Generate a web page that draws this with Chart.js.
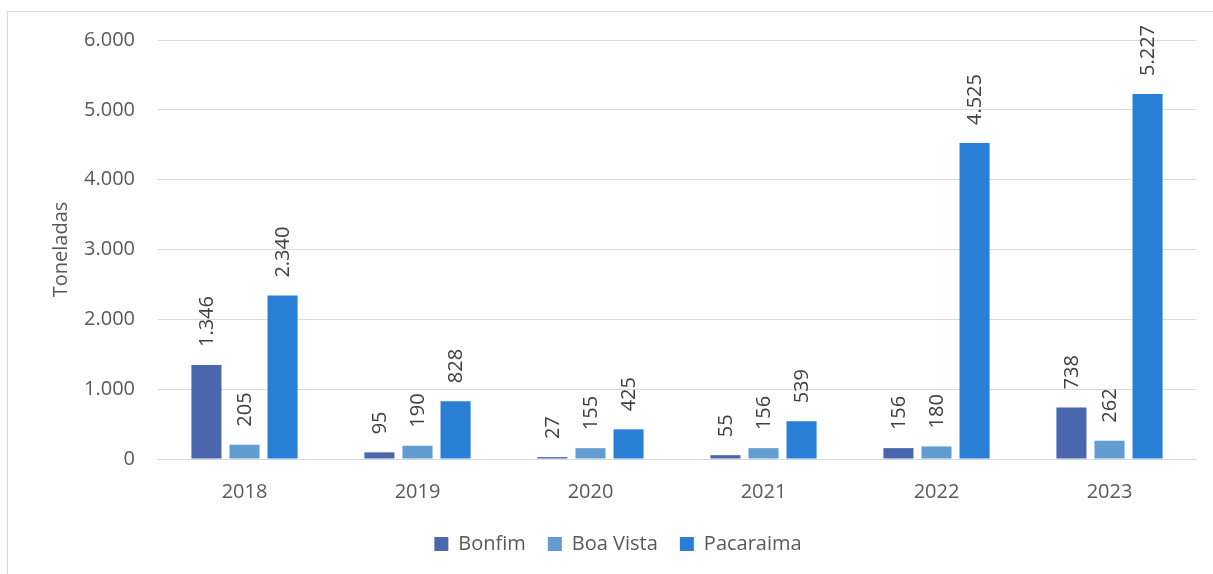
<!DOCTYPE html>
<html>
<head>
<meta charset="utf-8">
<script src="https://cdn.jsdelivr.net/npm/chart.js@4/dist/chart.umd.min.js"></script>
<style>
  html, body { margin: 0; padding: 0; background: #fff; }
  .wrap { position: relative; width: 1213px; height: 574px; overflow: hidden; }
  .frame { position: absolute; left: 7px; top: 11px; width: 1300px; height: 700px;
           border-left: 1px solid #d9d9d9; border-top: 1px solid #d9d9d9; }
  canvas { position: absolute; left: 0; top: 0; }
</style>
</head>
<body>
<div class="wrap">
  <div class="frame"></div>
  <canvas id="myChart" width="1213" height="574"></canvas>
</div>
<script>
// dados
var anos = ["2018", "2019", "2020", "2021", "2022", "2023"];
var bonfim = [1346, 95, 27, 55, 156, 738];
var boaVista = [205, 190, 155, 156, 180, 262];
var pacaraima = [2340, 828, 425, 539, 4525, 5227];
var yTicks = [0, 1000, 2000, 3000, 4000, 5000, 6000];

function fmt(v) {
    return String(v).replace(/\B(?=(\d{3})+(?!\d))/g, ".");
}

var FONT = "'Open Sans', 'DejaVu Sans', sans-serif";

// rotated value labels over the bars
var valueLabels = {
    id: 'valueLabels',
    afterDatasetsDraw: function(chart) {
        var ctx = chart.ctx;
        ctx.save();
        ctx.font = "20px " + FONT;
        ctx.fillStyle = "#404040";
        ctx.textAlign = "left";
        ctx.textBaseline = "middle";
        chart.data.datasets.forEach(function(ds, i) {
            chart.getDatasetMeta(i).data.forEach(function(bar, j) {
                ctx.save();
                ctx.translate(bar.x, bar.y - 18);
                ctx.rotate(-Math.PI / 2);
                ctx.fillText(fmt(ds.data[j]), 0, 1);
                ctx.restore();
            });
        });
        ctx.restore();
    }
};

var ctx = document.getElementById('myChart').getContext('2d');
var chart = new Chart(ctx, {
    type: 'bar',
    data: {
        labels: anos,
        datasets: [{
            label: "Bonfim",
            backgroundColor: '#4a66ac',
            data: bonfim
        },
        {
            label: "Boa Vista",
            backgroundColor: '#629dd1',
            data: boaVista
        },
        {
            label: "Pacaraima",
            backgroundColor: '#297fd5',
            data: pacaraima
        }]
    },
    options: {
        responsive: false,
        animation: false,
        categoryPercentage: 0.66,
        barPercentage: 0.79,
        layout: { padding: { top: 40, right: 17, bottom: 10, left: 40 } },
        plugins: {
            tooltip: { enabled: false },
            legend: {
                position: 'bottom',
                labels: {
                    boxWidth: 14,
                    boxHeight: 14,
                    padding: 22,
                    color: '#595959',
                    font: { family: FONT, size: 20 }
                }
            }
        },
        scales: {
            x: {
                grid: { display: false, drawTicks: false },
                border: { color: '#d9d9d9', width: 1 },
                ticks: { color: '#595959', padding: 21, font: { family: FONT, size: 20 } },
                afterFit: function(s) { s.height = 53; }
            },
            y: {
                min: 0,
                max: 6000,
                afterBuildTicks: function(s) {
                    s.ticks = yTicks.map(function(v) { return { value: v }; });
                },
                grid: { color: '#d9d9d9', drawTicks: false },
                border: { display: false },
                ticks: {
                    color: '#595959',
                    padding: 23,
                    font: { family: FONT, size: 20 },
                    callback: function(v) { return fmt(v); }
                },
                title: {
                    display: true,
                    text: 'Toneladas',
                    color: '#595959',
                    font: { family: FONT, size: 20 },
                    padding: { top: 9, bottom: 0 }
                },
                afterFit: function(s) { s.width = 118; }
            }
        }
    },
    plugins: [valueLabels]
});
</script>
</body>
</html>
